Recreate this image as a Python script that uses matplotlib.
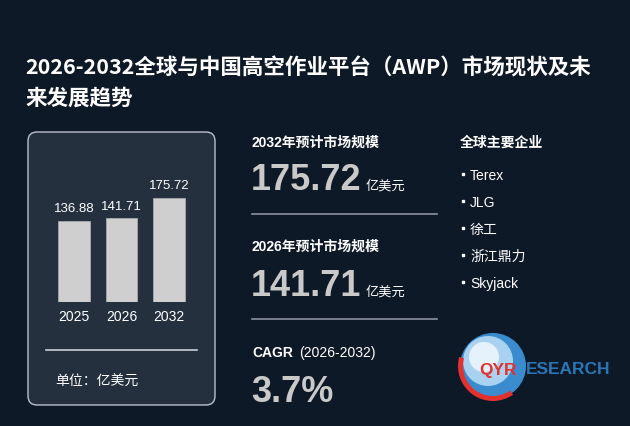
import matplotlib.pyplot as plt
from matplotlib.patches import FancyBboxPatch, Circle, Wedge

# --- data ---
years = ["2025", "2026", "2032"]
values = [136.88, 141.71, 175.72]
title_lines = ["2026-2032全球与中国高空作业平台（AWP）市场现状及未", "来发展趋势"]
size_2032 = "175.72"
size_2026 = "141.71"
cagr = "3.7%"
companies = ["Terex", "JLG", "徐工", "浙江鼎力", "Skyjack"]

BG = "#0e1927"
W, H = 630, 426
CJK = ["Liberation Sans", "Noto Sans CJK SC"]

fig = plt.figure(figsize=(W / 100, H / 100), dpi=100)
fig.patch.set_facecolor(BG)

# full-figure axes in pixel coords (y downwards)
bg = fig.add_axes([0, 0, 1, 1])
bg.set_xlim(0, W)
bg.set_ylim(H, 0)
bg.axis("off")

# title
for i, line in enumerate(title_lines):
    bg.text(25, 68 + 30 * i, line, fontsize=15.5, fontweight="bold", color="white",
            family=["Noto Sans CJK SC"], va="center", ha="left")

# card
card = FancyBboxPatch((28, 132), 187, 273, boxstyle="round,pad=0,rounding_size=9",
                      facecolor="#24303e", edgecolor="#b9c1cb", linewidth=1.0)
bg.add_patch(card)
bg.plot([46, 197], [350, 350], color="#c9ced6", lw=1.2)
bg.text(55, 382, "单位：亿美元", fontsize=10, color="white", family=CJK, va="center")

# bar chart inside card
ax = fig.add_axes([50 / W, (H - 302) / H, 143 / W, 122 / H])
ax.set_facecolor("none")
ax.bar(range(len(values)), values, width=0.67, color="#cfcfcf", edgecolor="#a5abb3", linewidth=0.6)
for i, v in enumerate(values):
    ax.annotate(f"{v:.2f}", (i, v), xytext=(0, 4), textcoords="offset points",
                ha="center", va="bottom", fontsize=9.5, color="white", family=CJK)
ax.set_xlim(-0.5, 2.5)
ax.set_ylim(0, 206)
ax.set_xticks(range(len(years)))
ax.set_xticklabels(years, fontsize=10, color="white", family=CJK)
ax.tick_params(axis="x", length=0, pad=6)
ax.set_yticks([])
for s in ax.spines.values():
    s.set_visible(False)

# middle column
big = dict(fontsize=26, fontweight="bold", color="#c9c9c9", family=CJK, va="center")
head = dict(fontsize=10, fontweight="bold", color="white", family=CJK, va="center")
unit = dict(fontsize=9.5, color="white", family=CJK, va="center")

bg.text(252, 143, "2032年预计市场规模", **head)
bg.text(251, 180, size_2032, **big)
bg.text(366, 186, "亿美元", **unit)
bg.plot([252, 437], [214, 214], color="#8a939e", lw=1.2)

bg.text(252, 247, "2026年预计市场规模", **head)
bg.text(251, 287, size_2026, **big)
bg.text(366, 292, "亿美元", **unit)
bg.plot([252, 437], [319, 319], color="#8a939e", lw=1.2)

bg.text(252, 353, "CAGR", **head)
bg.text(299, 353, "(2026-2032)", fontsize=10, color="white", family=CJK, va="center")
bg.text(251, 392, cagr, **big)

# right column
bg.text(460, 143, "全球主要企业", **head)
for i, name in enumerate(companies):
    y = 176 + 27 * i
    bg.plot([462.5], [y - 2], marker="s", ms=2.0, color="white")
    bg.text(470, y, name, fontsize=10, color="white", family=CJK, va="center")

# logo
bg.add_patch(Circle((493, 366), 33, facecolor="#3a8ccf", edgecolor="none"))
bg.add_patch(Circle((488, 361), 25, facecolor="#a9d2f0", edgecolor="none"))
bg.add_patch(Circle((484, 357), 15, facecolor="#e6f2fb", edgecolor="none"))
bg.add_patch(Wedge((493, 366), 35, 55, 195, width=5, facecolor="#e3312e", edgecolor="none"))
bg.text(479, 370, "QYR", fontsize=12.5, fontweight="bold", color="#e3312e", family=CJK, va="center")
bg.text(526, 370, "ESEARCH", fontsize=12.5, fontweight="bold", color="#2a77b8", family=CJK, va="center")

fig.savefig("out.png", dpi=100, facecolor=BG)
